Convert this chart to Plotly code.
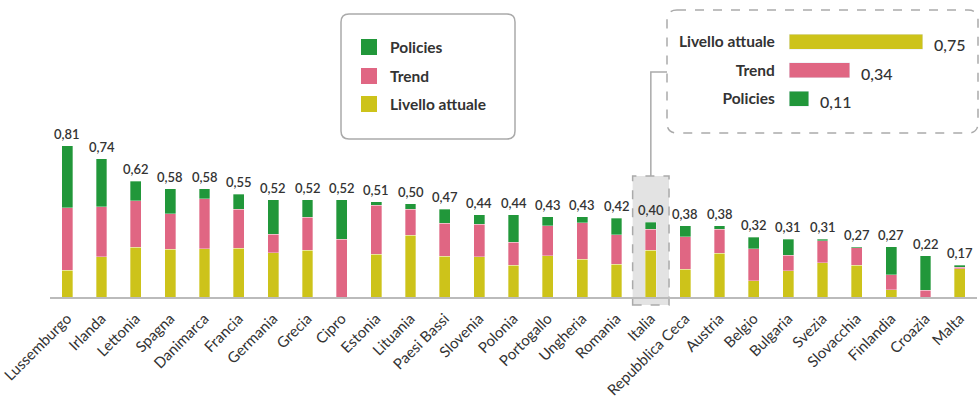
import plotly.graph_objects as go

# --- data -----------------------------------------------------------------
countries = [
    "Lussemburgo", "Irlanda", "Lettonia", "Spagna", "Danimarca", "Francia",
    "Germania", "Grecia", "Cipro", "Estonia", "Lituania", "Paesi Bassi",
    "Slovenia", "Polonia", "Portogallo", "Ungheria", "Romania", "Italia",
    "Repubblica Ceca", "Austria", "Belgio", "Bulgaria", "Svezia",
    "Slovacchia", "Finlandia", "Croazia", "Malta",
]
livello_attuale = [
    0.142, 0.214, 0.266, 0.255, 0.257, 0.260, 0.237, 0.251, 0.000, 0.228,
    0.330, 0.218, 0.214, 0.171, 0.221, 0.201, 0.176, 0.250, 0.148, 0.235,
    0.087, 0.141, 0.182, 0.171, 0.039, 0.000, 0.151,
]
trend = [
    0.336, 0.269, 0.248, 0.189, 0.269, 0.210, 0.098, 0.176, 0.309, 0.262,
    0.139, 0.176, 0.176, 0.123, 0.159, 0.196, 0.157, 0.113, 0.174, 0.128,
    0.170, 0.082, 0.118, 0.093, 0.079, 0.037, 0.007,
]
policies = [
    0.332, 0.257, 0.106, 0.136, 0.054, 0.080, 0.185, 0.093, 0.211, 0.020,
    0.031, 0.076, 0.050, 0.146, 0.050, 0.033, 0.087, 0.037, 0.058, 0.017,
    0.063, 0.087, 0.010, 0.006, 0.152, 0.183, 0.012,
]

# Italia detail (inset)
italia_labels = ["Policies", "Trend", "Livello attuale"]
italia_values = [0.11, 0.34, 0.75]
highlight = "Italia"

# --- style ------------------------------------------------------------------
C_LIV = "#cdc31a"
C_TREND = "#e06683"
C_POL = "#21973a"
TXT = "#333333"
GREY = "#aaaaaa"
FONT = "Lato"

W, H = 979, 399
ML, MR, MT, MB = 50, 2, 20, 102
PLOT_W = W - ML - MR
PLOT_H = H - MT - MB
PX_PER_UNIT = 187.0


def px(x):
    return (x - ML) / PLOT_W


def py(y):
    return (H - MB - y) / PLOT_H


def rounded_rect(x0, y0, x1, y1, r):
    """SVG path of a rounded rectangle, pixel corners -> paper coords."""
    rx = r / PLOT_W
    ry = r / PLOT_H
    a, b, c, d = px(x0), py(y1), px(x1), py(y0)  # left, bottom, right, top
    return (
        f"M {a + rx},{d} L {c - rx},{d} Q {c},{d} {c},{d - ry} "
        f"L {c},{b + ry} Q {c},{b} {c - rx},{b} "
        f"L {a + rx},{b} Q {a},{b} {a},{b + ry} "
        f"L {a},{d - ry} Q {a},{d} {a + rx},{d} Z"
    )


fig = go.Figure()

bar_line = dict(width=0.6, color="rgba(255,255,255,0.55)")
for name, vals, col in [
    ("Livello attuale", livello_attuale, C_LIV),
    ("Trend", trend, C_TREND),
    ("Policies", policies, C_POL),
]:
    fig.add_trace(go.Bar(
        x=countries, y=vals, name=name,
        marker=dict(color=col, line=bar_line),
        showlegend=False, hoverinfo="x+y+name",
    ))

# totals above the bars
totals = [a + b + c for a, b, c in zip(livello_attuale, trend, policies)]
for c, t in zip(countries, totals):
    fig.add_annotation(
        x=c, y=t, xref="x", yref="y",
        text=f"{t:.2f}".replace(".", ","),
        showarrow=False, yanchor="bottom", yshift=2,
        font=dict(family=FONT, size=13, color=TXT, weight=600),
    )

# inset: Italia components as horizontal bars
fig.add_trace(go.Bar(
    x=italia_values, y=italia_labels, orientation="h",
    marker=dict(color=[C_POL, C_TREND, C_LIV]),
    xaxis="x2", yaxis="y2", showlegend=False, width=0.53,
    hoverinfo="x+y",
))
for lab, v in zip(italia_labels, italia_values):
    fig.add_annotation(
        x=v, y=lab, xref="x2", yref="y2",
        text=f"{v:.2f}".replace(".", ","),
        showarrow=False, xanchor="left", xshift=9, yshift=-3,
        font=dict(family=FONT, size=16, color=TXT, weight=500),
    )

# legend drawn as boxes + labels
shapes = []
shapes.append(dict(
    type="path", xref="paper", yref="paper",
    path=rounded_rect(341, 14, 515, 139, 8),
    line=dict(color=GREY, width=1.5), fillcolor="white", layer="below",
))
legend_items = [("Policies", C_POL, 47), ("Trend", C_TREND, 76),
                ("Livello attuale", C_LIV, 104)]
for lab, col, yc in legend_items:
    shapes.append(dict(
        type="rect", xref="paper", yref="paper",
        x0=px(361), x1=px(377), y0=py(yc + 8), y1=py(yc - 8),
        fillcolor=col, line=dict(width=0),
    ))
    fig.add_annotation(
        x=px(388), y=py(yc), xref="paper", yref="paper", text=lab,
        showarrow=False, xanchor="left", yanchor="middle",
        font=dict(family=FONT, size=15.5, color=TXT, weight=700),
    )

# inset frame (dashed) and connector to the highlighted bar
shapes.append(dict(
    type="path", xref="paper", yref="paper",
    path=rounded_rect(667, 10, 978, 133, 10),
    line=dict(color=GREY, width=1.5, dash="dash"), layer="below",
))
n = len(countries)
i_hl = countries.index(highlight)
hx0 = (i_hl + 0.5 - 0.53) / n
hx1 = (i_hl + 0.5 + 0.53) / n
hl_top = py(H - MB - 0.647 * PX_PER_UNIT)
shapes.append(dict(
    type="rect", xref="paper", yref="paper",
    x0=hx0, x1=hx1, y0=py(305), y1=hl_top,
    fillcolor="#e3e3e3", line=dict(color=GREY, width=1.5, dash="dash"),
    layer="below",
))
hxc = (hx0 + hx1) / 2
shapes.append(dict(
    type="path", xref="paper", yref="paper",
    path=f"M {hxc},{hl_top} L {hxc},{py(72)} L {px(667)},{py(72)}",
    line=dict(color=GREY, width=1.5),
))

fig.update_layout(
    width=W, height=H,
    margin=dict(l=ML, r=MR, t=MT, b=MB, autoexpand=False),
    paper_bgcolor="white", plot_bgcolor="white",
    barmode="stack", bargap=0.68,
    font=dict(family=FONT, color=TXT),
    shapes=shapes,
    xaxis=dict(
        type="category", range=[-0.5, n - 0.5], tickangle=-45,
        showline=True, linecolor="#bbbbbb", linewidth=2,
        showgrid=False, ticks="outside", ticklen=5,
        tickcolor="rgba(0,0,0,0)", zeroline=False,
        tickfont=dict(family=FONT, size=15, color=TXT),
    ),
    yaxis=dict(
        range=[0, PLOT_H / PX_PER_UNIT], visible=False,
        showgrid=False, zeroline=False,
    ),
    xaxis2=dict(
        domain=[px(789), 1.0], range=[0, (977 - 789) / 178.0],
        anchor="y2", visible=False, showgrid=False, zeroline=False,
    ),
    yaxis2=dict(
        domain=[py(113), py(27.5)], anchor="x2", type="category",
        categoryorder="array", categoryarray=italia_labels,
        range=[-0.5, 2.5], showgrid=False, zeroline=False, showline=False,
        ticks="outside", ticklen=10, tickcolor="rgba(0,0,0,0)",
        tickfont=dict(family=FONT, size=15.5, color=TXT, weight=700),
    ),
)

fig.write_html("out.html")
